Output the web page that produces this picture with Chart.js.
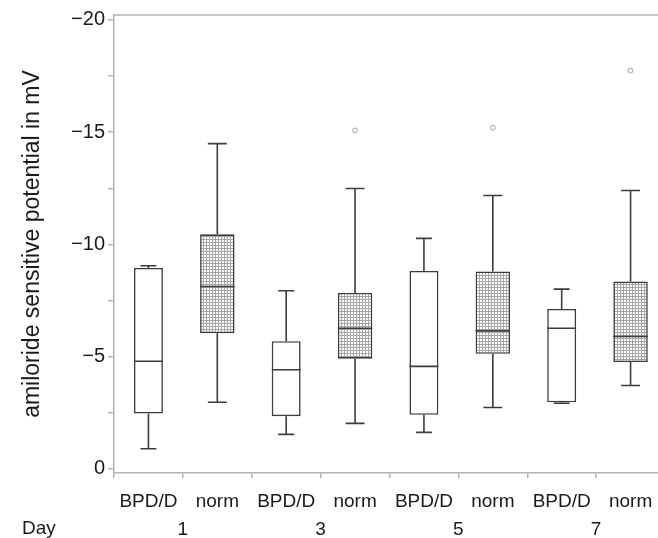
<!DOCTYPE html>
<html>
<head>
<meta charset="utf-8">
<script src="https://cdn.jsdelivr.net/npm/chart.js@4.4.1/dist/chart.umd.min.js"></script>
<style>
    html, body { margin: 0; padding: 0; background: #fff; overflow: hidden; }
    #wrap { position: relative; width: 680px; height: 538px; }
</style>
</head>
<body>
<div id="wrap"><canvas id="grafico"></canvas></div>
<script>
// groups on the x axis
const categories = ['BPD/D', 'norm', 'BPD/D', 'norm', 'BPD/D', 'norm', 'BPD/D', 'norm'];
const dayLabels = ['1', '3', '5', '7'];

// box plot values in mV
const whiskerLow = [-0.9, -2.97, -1.54, -2.03, -1.63, -2.74, -2.93, -3.72];
const boxLow = [-2.47, -6.05, -2.35, -4.91, -2.41, -5.13, -2.97, -4.76];
const medians = [-4.8, -8.13, -4.42, -6.27, -4.57, -6.15, -6.27, -5.9];
const boxHigh = [-8.95, -10.45, -5.69, -7.84, -8.82, -8.8, -7.13, -8.35];
const whiskerHigh = [-9.05, -14.49, -7.94, -12.49, -10.27, -12.18, -8.01, -12.4];
const outliers = [[], [], [], [-15.08], [], [-15.2], [], [-17.74]];

// y axis ticks (minor ticks between the labelled ones)
const yTicks = [-20, -17.5, -15, -12.5, -10, -7.5, -5, -2.5, 0];
const yLabels = ['\u221220', '', '\u221215', '', '\u221210', '', '\u22125', '', '0'];

const lineColor = '#3c3c3c';
const axisColor = '#b4b4b4';
const fontFamily = '"Liberation Sans", Arial, sans-serif';

// padrão quadriculado para as caixas "norm"
function makePattern() {
    const c = document.createElement('canvas');
    c.width = 3;
    c.height = 3;
    const g = c.getContext('2d');
    g.fillStyle = '#a6a6a6';
    g.fillRect(0, 0, 3, 3);
    g.fillStyle = '#ffffff';
    g.fillRect(0, 0, 2, 2);
    return g.createPattern(c, 'repeat');
}
const hatch = makePattern();

const boxPlotExtras = {
    id: 'boxPlotExtras',
    afterDatasetsDraw(chart) {
        const ctx = chart.ctx;
        const x = chart.scales.x;
        const y = chart.scales.y;
        ctx.save();
        ctx.strokeStyle = lineColor;
        ctx.lineWidth = 1.6;
        categories.forEach((cat, i) => {
            const dsIndex = cat === 'norm' ? 1 : 0;
            const bar = chart.getDatasetMeta(dsIndex).data[i];
            const cx = x.getPixelForValue(i);
            const w = bar.width;
            const cap = w * 0.55;
            const yMed = y.getPixelForValue(medians[i]);
            const yLo = y.getPixelForValue(boxLow[i]);
            const yHi = y.getPixelForValue(boxHigh[i]);
            const yWLo = y.getPixelForValue(whiskerLow[i]);
            const yWHi = y.getPixelForValue(whiskerHigh[i]);

            ctx.beginPath();
            // mediana
            ctx.moveTo(cx - w / 2, yMed);
            ctx.lineTo(cx + w / 2, yMed);
            // bigodes
            ctx.moveTo(cx, yHi);
            ctx.lineTo(cx, yWHi);
            ctx.moveTo(cx - cap / 2, yWHi);
            ctx.lineTo(cx + cap / 2, yWHi);
            ctx.moveTo(cx, yLo);
            ctx.lineTo(cx, yWLo);
            ctx.moveTo(cx - cap / 2, yWLo);
            ctx.lineTo(cx + cap / 2, yWLo);
            ctx.stroke();

            // outliers
            outliers[i].forEach(v => {
                ctx.save();
                ctx.strokeStyle = '#a0a0a0';
                ctx.lineWidth = 1;
                ctx.beginPath();
                ctx.arc(cx, y.getPixelForValue(v), 2.4, 0, Math.PI * 2);
                ctx.stroke();
                ctx.restore();
            });
        });

        // top frame line
        const area = chart.chartArea;
        ctx.strokeStyle = axisColor;
        ctx.lineWidth = 1.5;
        ctx.beginPath();
        ctx.moveTo(area.left, area.top);
        ctx.lineTo(area.right, area.top);
        ctx.stroke();

        // "Day" label on the second row
        const x2 = chart.scales.x2;
        ctx.fillStyle = '#1a1a1a';
        ctx.font = '19px ' + fontFamily;
        ctx.textAlign = 'left';
        ctx.textBaseline = 'alphabetic';
        ctx.fillText('Day', 22, x2.top + 21);
        ctx.restore();
    }
};

const ctx = document.getElementById('grafico').getContext('2d');

new Chart(ctx, {
    type: 'bar',
    data: {
        labels: categories,
        datasets: [{
            label: 'BPD/D',
            data: categories.map((c, i) => c === 'BPD/D' ? [boxLow[i], boxHigh[i]] : null),
            backgroundColor: '#ffffff',
            borderColor: lineColor,
            borderWidth: 1.6,
            borderSkipped: false,
            grouped: false,
            barPercentage: 0.42,
            categoryPercentage: 1
        }, {
            label: 'norm',
            data: categories.map((c, i) => c === 'norm' ? [boxLow[i], boxHigh[i]] : null),
            backgroundColor: hatch,
            borderColor: lineColor,
            borderWidth: 1.6,
            borderSkipped: false,
            grouped: false,
            barPercentage: 0.5,
            categoryPercentage: 1
        }]
    },
    options: {
        responsive: true,
        maintainAspectRatio: false,
        animation: false,
        layout: {
            padding: { top: 13, right: 15, left: 0, bottom: 0 }
        },
        plugins: {
            legend: { display: false },
            tooltip: { enabled: false }
        },
        scales: {
            x: {
                position: 'bottom',
                weight: 0,
                afterFit: (axis) => { axis.height = 40; },
                grid: { drawOnChartArea: false, drawTicks: true, tickLength: 5, color: axisColor, lineWidth: 1.5 },
                border: { color: axisColor, width: 1.5 },
                ticks: {
                    color: '#1a1a1a',
                    padding: 12,
                    font: { family: fontFamily, size: 19 }
                }
            },
            x2: {
                type: 'category',
                labels: dayLabels,
                position: 'bottom',
                weight: 1,
                afterFit: (axis) => { axis.height = 25; },
                grid: { display: false, drawTicks: false },
                border: { display: false },
                ticks: {
                    color: '#1a1a1a',
                    padding: 5,
                    font: { family: fontFamily, size: 19 }
                }
            },
            y: {
                reverse: true,
                min: -20.22,
                max: 0.18,
                afterFit: (axis) => { axis.width = 114; },
                afterBuildTicks: (axis) => { axis.ticks = yTicks.map(v => ({ value: v })); },
                grid: {
                    drawOnChartArea: false,
                    drawTicks: true,
                    tickLength: 6,
                    color: axisColor,
                    lineWidth: 1.5
                },
                border: { color: axisColor, width: 1.5 },
                ticks: {
                    color: '#1a1a1a',
                    padding: 3,
                    font: { family: fontFamily, size: 20 },
                    callback: function (value) {
                        return yLabels[yTicks.indexOf(value)] ?? '';
                    }
                },
                title: {
                    display: true,
                    text: 'amiloride sensitive potential in mV',
                    color: '#1a1a1a',
                    padding: { top: 19, bottom: 0 },
                    font: { family: fontFamily, size: 23 }
                }
            }
        }
    },
    plugins: [boxPlotExtras]
});
</script>
</body>
</html>
